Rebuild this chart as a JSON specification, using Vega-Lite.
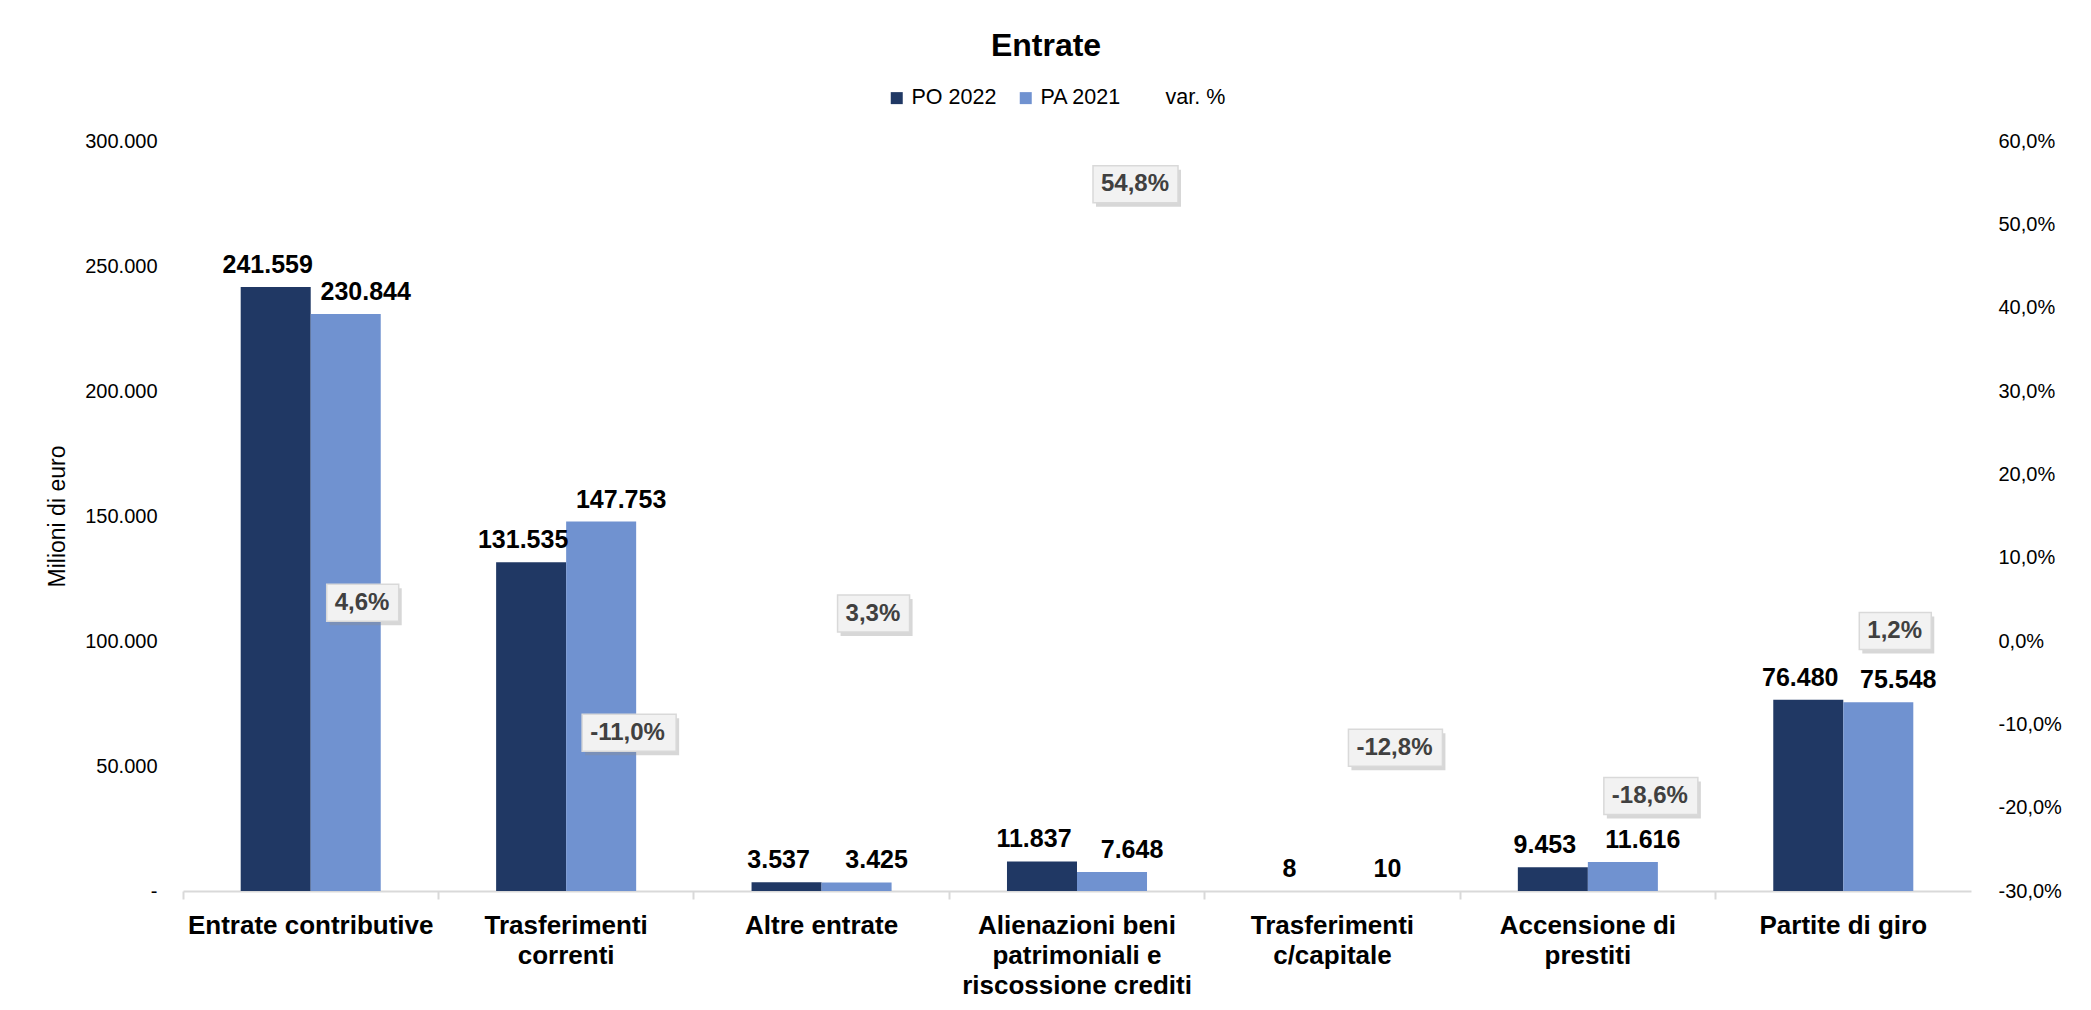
{
  "$schema": "https://vega.github.io/schema/vega-lite/v6.json",
  "autosize": {"type": "none"},
  "width": 1788,
  "height": 750,
  "padding": {"left": 183, "top": 141, "right": 120, "bottom": 119},
  "background": "white",
  "config": {
    "locale": {"number": {"decimal": ",", "thousands": ".", "grouping": [3], "currency": ["€", ""], "minus": "-"}},
    "font": "Liberation Sans",
    "view": {"stroke": null},
    "axis": {"grid": false, "labelFont": "Liberation Sans", "titleFont": "Liberation Sans"}
  },
  "title": {
    "text": "Entrate",
    "font": "Liberation Sans",
    "fontSize": 32,
    "fontWeight": "bold",
    "color": "#000000",
    "anchor": "middle",
    "frame": "group",
    "dx": -31,
    "offset": 24
  },
  "datasets": {
    "bars": [
      {"categoria": "Entrate contributive", "serie": "PO 2022", "valore": 241559},
      {"categoria": "Entrate contributive", "serie": "PA 2021", "valore": 230844},
      {"categoria": "Trasferimenti correnti", "serie": "PO 2022", "valore": 131535},
      {"categoria": "Trasferimenti correnti", "serie": "PA 2021", "valore": 147753},
      {"categoria": "Altre entrate", "serie": "PO 2022", "valore": 3537},
      {"categoria": "Altre entrate", "serie": "PA 2021", "valore": 3425},
      {"categoria": "Alienazioni beni patrimoniali e riscossione crediti", "serie": "PO 2022", "valore": 11837},
      {"categoria": "Alienazioni beni patrimoniali e riscossione crediti", "serie": "PA 2021", "valore": 7648},
      {"categoria": "Trasferimenti c/capitale", "serie": "PO 2022", "valore": 8},
      {"categoria": "Trasferimenti c/capitale", "serie": "PA 2021", "valore": 10},
      {"categoria": "Accensione di prestiti", "serie": "PO 2022", "valore": 9453},
      {"categoria": "Accensione di prestiti", "serie": "PA 2021", "valore": 11616},
      {"categoria": "Partite di giro", "serie": "PO 2022", "valore": 76480},
      {"categoria": "Partite di giro", "serie": "PA 2021", "valore": 75548}
    ],
    "var": [
      {"categoria": "Entrate contributive", "var": 0.046},
      {"categoria": "Trasferimenti correnti", "var": -0.110},
      {"categoria": "Altre entrate", "var": 0.033},
      {"categoria": "Alienazioni beni patrimoniali e riscossione crediti", "var": 0.548},
      {"categoria": "Trasferimenti c/capitale", "var": -0.128},
      {"categoria": "Accensione di prestiti", "var": -0.186},
      {"categoria": "Partite di giro", "var": 0.012}
    ]
  },
  "encoding": {
    "x": {
      "field": "categoria",
      "type": "nominal",
      "sort": ["Entrate contributive", "Trasferimenti correnti", "Altre entrate", "Alienazioni beni patrimoniali e riscossione crediti", "Trasferimenti c/capitale", "Accensione di prestiti", "Partite di giro"],
      "scale": {"paddingInner": 0, "paddingOuter": 0},
      "axis": {
        "title": null,
        "labelAngle": 0,
        "labelFontSize": 26,
        "labelFontWeight": "bold",
        "labelColor": "#000000",
        "labelLimit": 0,
        "labelLineHeight": 30,
        "labelPadding": 13,
        "labelBaseline": "top",
        "tickSize": 8,
        "tickColor": "#d9d9d9",
        "tickWidth": 2,
        "bandPosition": 0,
        "domainColor": "#d9d9d9",
        "domainWidth": 2,
        "labelExpr": "datum.value == 'Trasferimenti correnti' ? ['Trasferimenti', 'correnti'] : datum.value == 'Alienazioni beni patrimoniali e riscossione crediti' ? ['Alienazioni beni', 'patrimoniali e', 'riscossione crediti'] : datum.value == 'Trasferimenti c/capitale' ? ['Trasferimenti', 'c/capitale'] : datum.value == 'Accensione di prestiti' ? ['Accensione di', 'prestiti'] : datum.value"
      }
    }
  },
  "layer": [
    {
      "data": {"name": "bars"},
      "encoding": {
        "xOffset": {"field": "serie", "type": "nominal", "sort": ["PO 2022", "PA 2021"], "scale": {"paddingInner": 0, "paddingOuter": 0.824}},
        "y": {
          "field": "valore",
          "type": "quantitative",
          "scale": {"domain": [0, 300000], "nice": false, "zero": true},
          "axis": {
            "title": "Milioni di euro",
            "titleFontSize": 23,
            "titleFontWeight": "normal",
            "titleColor": "#000000",
            "titlePadding": 15,
            "values": [0, 50000, 100000, 150000, 200000, 250000, 300000],
            "format": ",.0f",
            "labelExpr": "datum.value == 0 ? '-\u00a0\u00a0' : datum.label",
            "labelFontSize": 20,
            "labelColor": "#000000",
            "labelPadding": 26,
            "ticks": false,
            "tickSize": 0,
            "domain": false
          }
        }
      },
      "layer": [
        {
          "mark": {"type": "bar"},
          "encoding": {
            "color": {
              "field": "serie",
              "type": "nominal",
              "scale": {"domain": ["PO 2022", "PA 2021", "var. %"], "range": ["#203864", "#7092d0", "transparent"]},
              "legend": {
                "title": null,
                "orient": "none",
                "direction": "horizontal",
                "legendX": 703,
                "legendY": -54,
                "symbolType": "square",
                "symbolSize": 144,
                "symbolStrokeWidth": 0,
                "labelFontSize": 21.5,
                "labelFont": "Liberation Sans",
                "labelColor": "#000000",
                "labelOffset": 4,
                "columnPadding": 18,
                "padding": 0
              }
            }
          }
        },
        {
          "transform": [{"filter": "datum.serie == 'PO 2022'"}],
          "mark": {"type": "text", "fontSize": 25, "fontWeight": "bold", "color": "#000000", "baseline": "alphabetic", "dy": -14, "dx": -8},
          "encoding": {
            "text": {"field": "valore", "type": "quantitative", "format": ",.0f"}
          }
        },
        {
          "transform": [{"filter": "datum.serie == 'PA 2021'"}],
          "mark": {"type": "text", "fontSize": 25, "fontWeight": "bold", "color": "#000000", "baseline": "alphabetic", "dy": -14, "dx": 20},
          "encoding": {
            "text": {"field": "valore", "type": "quantitative", "format": ",.0f"}
          }
        }
      ]
    },
    {
      "data": {"name": "var"},
      "encoding": {
        "y": {
          "field": "var",
          "type": "quantitative",
          "scale": {"domain": [-0.3, 0.6], "nice": false, "zero": false},
          "axis": {
            "orient": "right",
            "title": null,
            "values": [-0.3, -0.2, -0.1, 0, 0.1, 0.2, 0.3, 0.4, 0.5, 0.6],
            "format": ".1%",
            "labelFontSize": 20,
            "labelColor": "#000000",
            "labelPadding": 27,
            "ticks": false,
            "tickSize": 0,
            "domain": false
          }
        }
      },
      "layer": [
        {
          "mark": {"type": "point", "filled": true, "size": 40000, "opacity": 1, "fill": "#8c8c8c", "fillOpacity": 0.35, "strokeWidth": 0},
          "encoding": {
            "shape": {
              "condition": [
                {"test": "datum['var'] < 0", "value": "M0.19,-0.145H1.13V0.225H0.19Z"},
                {"test": "datum['var'] >= 0.1", "value": "M0.19,-0.145H1.04V0.225H0.19Z"}
              ],
              "value": "M0.19,-0.145H0.91V0.225H0.19Z"
            }
          }
        },
        {
          "mark": {"type": "point", "filled": true, "size": 40000, "opacity": 1, "fill": "#f2f2f2", "stroke": "#d9d9d9", "strokeWidth": 1.5},
          "encoding": {
            "shape": {
              "condition": [
                {"test": "datum['var'] < 0", "value": "M0.16,-0.185H1.1V0.185H0.16Z"},
                {"test": "datum['var'] >= 0.1", "value": "M0.16,-0.185H1.01V0.185H0.16Z"}
              ],
              "value": "M0.16,-0.185H0.88V0.185H0.16Z"
            }
          }
        },
        {
          "mark": {"type": "text", "fontSize": 24, "fontWeight": "bold", "color": "#404040", "align": "left", "baseline": "middle", "dx": 24},
          "encoding": {
            "text": {"field": "var", "type": "quantitative", "format": ".1%"}
          }
        }
      ]
    }
  ],
  "resolve": {"scale": {"y": "independent"}}
}
